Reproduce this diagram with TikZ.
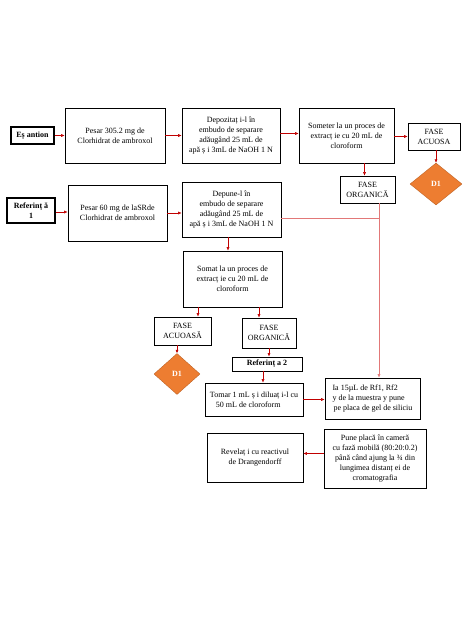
\documentclass[tikz,border=0pt]{standalone}
\usepackage{fontspec}
\setmainfont{Liberation Serif}
\usetikzlibrary{shapes.geometric,arrows.meta}
\definecolor{arrred}{RGB}{192,0,0}
\definecolor{linkred}{RGB}{226,120,120}
\definecolor{dorange}{RGB}{237,125,49}
\begin{document}
\begin{tikzpicture}[x=1pt, y=-1pt, font=\fontsize{8}{10}\selectfont,
  box/.style = {draw, line width=0.7pt, align=center, inner sep=1pt},
  tag/.style = {draw, line width=1.2pt, align=center, inner sep=1pt, font=\fontsize{8}{10}\selectfont\bfseries},
  dia/.style = {diamond, fill=dorange, draw=dorange!80!black, line width=0.4pt, inner sep=0pt, text=white, font=\fontsize{8}{10}\selectfont\bfseries},
  arr/.style = {draw=arrred, line width=0.5pt, -{Latex[length=3.5pt,width=3pt]}},
  link/.style = {draw=linkred, line width=0.6pt}]
\useasboundingbox (0,0) rectangle (474,632);
\node[tag, minimum width=43pt, minimum height=17pt] (esant) at (32.5,135.5) {Eș antion};
\node[box, minimum width=100pt, minimum height=55pt] (pesarA) at (115,135.5) {Pesar 305.2 mg de\\Clorhidrat de ambroxol};
\node[box, minimum width=98pt, minimum height=55pt] (depoz) at (231,135.5) {Depozitaț i-l în\\embudo de separare\\adăugând 25 mL de\\apă ș i 3mL de NaOH 1 N};
\node[box, minimum width=95pt, minimum height=55pt] (somet) at (346.5,135.5) {Someter la un proces de\\extracț ie cu 20 mL de\\cloroform};
\node[box, minimum width=52pt, minimum height=27pt] (acuosaA) at (434,136.5) {FASE\\ACUOSA};
\node[dia, minimum width=52pt, minimum height=42pt] (dA) at (436,184) {D1};
\node[box, minimum width=55pt, minimum height=27pt] (orgA) at (367.5,189.5) {FASE\\ORGANICĂ};
\node[tag, minimum width=48pt, minimum height=25pt] (ref1) at (31,210.5) {Referinț ă\\1};
\node[box, minimum width=99pt, minimum height=56pt] (pesarB) at (117.5,213) {Pesar 60 mg de laSRde\\Clorhidrat de ambroxol};
\node[box, minimum width=99pt, minimum height=55pt] (depune) at (231.5,209.5) {Depune-l în\\embudo de separare\\adăugând 25 mL de\\apă ș i 3mL de NaOH 1 N};
\node[box, minimum width=99pt, minimum height=56pt] (somat) at (232.5,279) {Somat la un proces de\\extracț ie cu 20 mL de\\cloroform};
\node[box, minimum width=57pt, minimum height=28pt] (acuosaB) at (182.5,331) {FASE\\ACUOASĂ};
\node[box, minimum width=54pt, minimum height=30pt] (orgB) at (269,333) {FASE\\ORGANICĂ};
\node[dia, minimum width=46pt, minimum height=41pt] (dB) at (177,374) {D1};
\node[tag, line width=0.9pt, minimum width=70pt, minimum height=14pt] (ref2) at (267,364) {Referinț a 2};
\node[box, minimum width=98pt, minimum height=33pt, align=left] (tomar) at (254,399.5) {Tomar 1 mL ș i diluaț i-l cu\\\hspace*{6pt}50 mL de cloroform};
\node[box, minimum width=95pt, minimum height=41pt, align=left] (ia) at (372.5,398.5) {Ia 15µL de Rf1, Rf2\\y de la muestra y pune\\\hspace*{1pt}pe placa de gel de siliciu};
\node[box, minimum width=102pt, minimum height=59pt] (pune) at (375,458.5) {Pune placă în cameră\\cu fază mobilă (80:20:0.2)\\până când ajung la ¾ din\\lungimea distanț ei de\\cromatografia};
\node[box, minimum width=96pt, minimum height=49pt] (revel) at (255,457.5) {Revelaț i cu reactivul\\de Drangendorff};
\coordinate (join) at (379,218);
\draw[arr] (esant.east) -- (esant.east -| pesarA.west);
\draw[arr] (pesarA.east) -- (pesarA.east -| depoz.west);
\draw[arr] ([yshift=2pt]depoz.east) -- ([yshift=2pt]depoz.east -| somet.west);
\draw[arr] (somet.east |- acuosaA.west) -- (acuosaA.west);
\draw[arr] (acuosaA.south -| dA.north) -- (dA.north);
\draw[arr] ([xshift=-3pt]somet.south -| orgA.north) -- ([xshift=-3pt]orgA.north);
\draw[arr] ([yshift=-1.5pt]ref1.east) -- ([yshift=-1.5pt]ref1.east -| pesarB.west);
\draw[arr] (pesarB.east) -- (pesarB.east -| depune.west);
\draw[arr] ([xshift=-3.5pt]depune.south) -- ([xshift=-3.5pt]depune.south |- somat.north);
\draw[arr] ([xshift=-34.5pt]somat.south) -- ([xshift=15.5pt]acuosaB.north);
\draw[arr] ([xshift=26.5pt]somat.south) -- ([xshift=-10pt]orgB.north);
\draw[arr] (acuosaB.south -| dB.north) -- (dB.north);
\draw[arr] (orgB.south) -- (orgB.south |- ref2.north);
\draw[arr] ([xshift=-4pt]ref2.south) -- ([xshift=9pt]tomar.north);
\draw[arr] (tomar.east) -- (tomar.east -| ia.west);
\draw[arr] ([yshift=5pt]pune.west) -- ([yshift=4pt]revel.east);
\draw[link] ([yshift=-8.5pt]depune.east) -- (join);
\draw[link] ([xshift=11.5pt]orgA.south) -- (join);
\draw[arr, draw=linkred] (join) -- ([xshift=6.5pt]ia.north);
\end{tikzpicture}
\end{document}
